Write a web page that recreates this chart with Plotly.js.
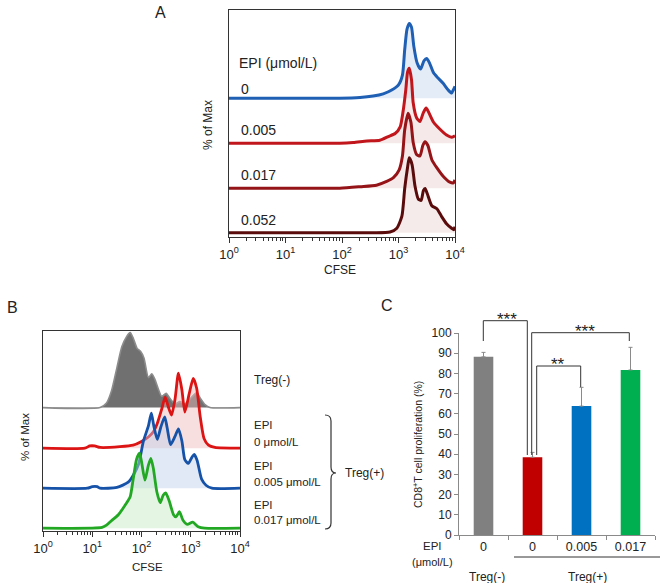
<!DOCTYPE html>
<html><head><meta charset="utf-8">
<script src="https://cdn.plot.ly/plotly-3.0.1.min.js"></script>
<style>html,body{margin:0;padding:0;background:#fff}#chart{width:666px;height:583px}</style>
</head><body><div id="chart"></div>
<script>
// ---------- DATA ----------
// Tick labels for CFSE (log10 decades)
const decadeVals = [0, 1, 2, 3, 4];
const decadeLabels = ['10<sup>0</sup>', '10<sup>1</sup>', '10<sup>2</sup>', '10<sup>3</sup>', '10<sup>4</sup>'];

// Panel A: CFSE histograms (x = log10 CFSE, y = % of max)
const aDoses = ['0', '0.005', '0.017', '0.052'];
const aX0 = [0, 1, 1.96, 2.32, 2.55, 2.73, 2.88, 3.0, 3.07, 3.11, 3.15, 3.19, 3.23, 3.27, 3.33, 3.39, 3.45, 3.50, 3.55, 3.62, 3.70, 3.79, 3.88, 3.94, 3.97, 4.0];
const aY0 = [0, 0, 0, 1, 3, 6, 11, 18, 31, 65, 92, 100, 95, 70, 47, 39, 50, 53, 47, 34, 27, 20, 11, 7, 11, 16];
const aX1 = [0, 1, 1.96, 2.2, 2.44, 2.67, 2.82, 2.94, 3.03, 3.08, 3.13, 3.16, 3.19, 3.23, 3.26, 3.32, 3.38, 3.44, 3.49, 3.53, 3.62, 3.73, 3.85, 3.94, 4.0];
const aY1 = [0, 0, 0, 1, 3, 4, 9, 13, 22, 42, 72, 95, 100, 85, 54, 34, 29, 41, 47, 42, 28, 19, 11, 8, 10];
const aX2 = [0, 1, 1.96, 2.32, 2.61, 2.79, 2.91, 3.01, 3.07, 3.11, 3.17, 3.22, 3.26, 3.32, 3.38, 3.43, 3.47, 3.52, 3.59, 3.68, 3.79, 3.91, 3.97, 4.0];
const aY2 = [0, 0, 0, 2, 4, 9, 14, 24, 43, 78, 100, 88, 61, 45, 43, 57, 62, 57, 38, 27, 16, 8, 7, 11];
const aX3 = [0, 1, 1.96, 2.55, 2.85, 2.97, 3.06, 3.11, 3.16, 3.19, 3.24, 3.29, 3.35, 3.40, 3.44, 3.47, 3.51, 3.59, 3.68, 3.76, 3.85, 3.94, 3.98, 4.0];
const aY3 = [0, 0, 0, 0, 1, 6, 22, 59, 87, 100, 91, 63, 45, 43, 56, 59, 52, 36, 32, 22, 12, 6, 4, 8];

// Panel B: CFSE histograms
const bNames = ['Treg(-)', 'EPI 0 μmol/L', 'EPI 0.005 μmol/L', 'EPI 0.017 μmol/L'];
const bXg = [0, 1.16, 1.29, 1.39, 1.50, 1.60, 1.70, 1.77, 1.83, 1.91, 1.98, 2.05, 2.14, 2.21, 2.27, 2.34, 2.41, 2.50, 2.58, 2.68, 2.78, 2.88, 3.02, 3.12, 3.19, 3.29, 3.39, 4];
const bYg = [0, 0, 6, 22, 53, 81, 95, 100, 93, 79, 75, 66, 40, 45, 38, 25, 15, 19, 12, 5, 8, 5, 14, 20, 13, 4, 0, 0];
const bXr = [0, 0.85, 0.95, 1.05, 1.16, 1.56, 1.83, 2.0, 2.14, 2.24, 2.32, 2.41, 2.48, 2.54, 2.61, 2.68, 2.75, 2.82, 2.88, 2.97, 3.05, 3.12, 3.19, 3.27, 3.36, 3.49, 4];
const bYr = [0, 0, 3, 3, 1, 2, 4, 9, 15, 22, 33, 52, 68, 56, 44, 65, 100, 78, 48, 73, 93, 80, 43, 13, 4, 1, 0];
const bXb = [0, 0.9, 1.0, 1.1, 1.16, 1.50, 1.73, 1.83, 1.94, 2.04, 2.14, 2.20, 2.25, 2.32, 2.39, 2.47, 2.52, 2.59, 2.68, 2.75, 2.82, 2.88, 2.95, 3.03, 3.07, 3.13, 3.22, 3.31, 3.43, 4];
const bYb = [0, 0, 2, 2, 0, 1, 8, 17, 32, 63, 83, 100, 83, 65, 81, 95, 81, 58, 69, 79, 63, 38, 33, 42, 45, 37, 12, 4, 0, 0];
const bXgr = [0, 1.2, 1.29, 1.39, 1.53, 1.66, 1.77, 1.83, 1.90, 1.96, 2.0, 2.07, 2.14, 2.19, 2.24, 2.31, 2.38, 2.44, 2.49, 2.56, 2.65, 2.70, 2.77, 2.84, 2.93, 3.04, 3.15, 3.28, 4];
const bYgr = [0, 1, 4, 10, 18, 30, 42, 65, 92, 100, 89, 64, 84, 93, 80, 49, 34, 44, 47, 37, 18, 15, 22, 11, 5, 8, 2, 0, 0];

// Panel C: CD8+ T cell proliferation (%)
const cDose = ['0', '0', '0.005', '0.017'];
const cGroup = ['Treg(-)', 'Treg(+)', 'Treg(+)', 'Treg(+)'];
const cValues = [88.2, 38.5, 63.8, 81.7];
const cErr = [2.2, 2.4, 9.3, 11.2];

// ---------- LAYOUT HELPERS ----------
const W = 666, H = 583;
const fx = p => p / W, fy = p => 1 - p / H;
const FONT = 'Liberation Sans, Arial, Helvetica, sans-serif';
const TXT = '#222';

const traces = [];
function addCurves(curves, xa, ya, scale, width) {
  curves.forEach(c => {
    traces.push({x: [0, 4], y: [c.off, c.off], mode: 'lines', line: {width: 0, color: 'rgba(0,0,0,0)'},
      xaxis: xa, yaxis: ya, hoverinfo: 'skip'});
    traces.push({x: c.x, y: c.y.map(v => c.off + v * scale), mode: 'lines',
      line: {color: c.color, width: c.w || width, shape: 'spline', smoothing: 0.6},
      fill: 'tonexty', fillcolor: c.fill, xaxis: xa, yaxis: ya, hoverinfo: 'skip'});
  });
}

addCurves([
  {x: aX0, y: aY0, off: 61.1, color: '#1f5fb4', fill: 'rgba(196,212,240,0.45)'},
  {x: aX1, y: aY1, off: 41.3, color: '#c0161c', fill: 'rgba(232,200,200,0.4)'},
  {x: aX2, y: aY2, off: 21.5, color: '#951418', fill: 'rgba(232,200,200,0.4)'},
  {x: aX3, y: aY3, off: 1.9, color: '#5a0c0c', fill: 'rgba(232,205,205,0.4)'}
], 'x', 'y', 0.33, 3);

addCurves([
  {x: bXg, y: bYg, off: 61.7, color: '#8c8c8c', fill: 'rgb(112,112,112)', w: 1.6},
  {x: bXr, y: bYr, off: 41.4, color: '#dc1414', fill: 'rgba(240,185,185,0.45)'},
  {x: bXb, y: bYb, off: 21.4, color: '#1552a8', fill: 'rgba(190,206,236,0.45)'},
  {x: bXgr, y: bYgr, off: 1.4, color: '#22a822', fill: 'rgba(195,232,195,0.45)'}
], 'x2', 'y2', 0.375, 2.8);

traces.push({type: 'bar', x: cDose.map((_, i) => i), y: cValues, width: 0.4,
  marker: {color: ['#808080', '#c00000', '#0070c0', '#00b050']},
  error_y: {type: 'data', array: cErr, arrayminus: cErr.map(() => 0), symmetric: false,
    color: '#8a8a8a', thickness: 1, width: 2},
  xaxis: 'x3', yaxis: 'y3', hoverinfo: 'skip'});

const minorVals = [];
for (let n = 0; n < 4; n++) for (let k = 2; k <= 9; k++) minorVals.push(n + Math.log10(k));

function histX(dom) {
  return {domain: dom, range: [0, 4], tickmode: 'array', tickvals: decadeVals, ticktext: decadeLabels,
    ticks: 'outside', ticklen: 5, tickwidth: 1, tickcolor: '#333', showline: true, linecolor: '#333',
    linewidth: 1, mirror: true, showgrid: false, zeroline: false,
    tickfont: {size: 13, color: TXT, family: FONT},
    minor: {tickmode: 'array', tickvals: minorVals, ticks: 'outside', ticklen: 3, tickcolor: '#333', showgrid: false}};
}
function histY(dom) {
  return {domain: dom, range: [0, 100], showticklabels: false, ticks: '', showline: true, mirror: true,
    linecolor: '#333', linewidth: 1, showgrid: false, zeroline: false};
}

const annotations = [];
function ann(text, x, y, o = {}) {
  annotations.push(Object.assign({text, x: fx(x), y: fy(y), xref: 'paper', yref: 'paper', showarrow: false,
    xanchor: 'center', yanchor: 'middle', font: {family: FONT, size: o.size || 12, color: TXT}}, o.extra || {}));
}
// Panel A text
ann('A', 160, 12, {size: 16});
ann('% of Max', 208, 125, {extra: {textangle: -90}});
ann('EPI (μmol/L)', 237, 63, {size: 14, extra: {xanchor: 'left'}});
[89, 130, 175, 220].forEach((y, i) => ann(aDoses[i], 239, y, {size: 14, extra: {xanchor: 'left'}}));
ann('CFSE', 340, 270);
// Panel B text
ann('B', 12, 307, {size: 16});
ann('% of Max', 25, 437, {size: 11.5, extra: {textangle: -90}});
ann('CFSE', 147, 567, {size: 11.5});
ann(bNames[0], 252, 380, {extra: {xanchor: 'left'}});
[[425, 'EPI'], [442, '0 μmol/L'], [466, 'EPI'], [482, '0.005 μmol/L'], [505, 'EPI'], [520, '0.017 μmol/L']]
  .forEach(([y, t]) => ann(t, 252, y, {size: 11.5, extra: {xanchor: 'left'}}));
ann('Treg(+)', 343, 473, {extra: {xanchor: 'left'}});
// Panel C text
ann('C', 387, 305, {size: 16});
ann('CD8<sup>+</sup>T cell proliferation (%)', 417, 445, {size: 10.5, extra: {textangle: -90}});
ann('EPI', 432, 546, {size: 11.5});
ann('(μmol/L)', 432, 562, {size: 11});
ann(cGroup[0], 487, 577);
ann(cGroup[1], 587, 577);
ann('***', 506.7, 319, {size: 17});
ann('**', 558.3, 364, {size: 17});
ann('***', 585, 331, {size: 17});

function path(segs) {
  return segs.map(s => s[0] + ' ' + s.slice(1).map(p => fx(p[0]) + ',' + fy(p[1])).join(' ')).join(' ');
}
const ln = {color: '#333', width: 1};
const shapes = [
  {type: 'path', xref: 'paper', yref: 'paper', line: ln,
    path: path([['M', [483.3, 341]], ['L', [483.3, 320.7]], ['L', [527.3, 320.7]], ['L', [527.3, 455]]])},
  {type: 'path', xref: 'paper', yref: 'paper', line: ln,
    path: path([['M', [531.7, 455]], ['L', [531.7, 332.7]], ['L', [629.3, 332.7]], ['L', [629.3, 341]]])},
  {type: 'path', xref: 'paper', yref: 'paper', line: ln,
    path: path([['M', [536.7, 455]], ['L', [536.7, 366]], ['L', [580.7, 366]], ['L', [580.7, 387]]])},
  {type: 'path', xref: 'paper', yref: 'paper', line: {color: '#333', width: 1.2},
    path: path([['M', [325, 415]], ['Q', [331, 415], [331, 421]], ['L', [331, 467]], ['Q', [331, 473], [336, 473]],
      ['Q', [331, 473], [331, 479]], ['L', [331, 523]], ['Q', [331, 529], [325, 529]]])},
  {type: 'line', xref: 'paper', yref: 'paper', x0: fx(514), x1: fx(660), y0: fy(557), y1: fy(557), line: ln}
];

const layout = {
  width: W, height: H, margin: {l: 0, r: 0, t: 0, b: 0}, showlegend: false,
  paper_bgcolor: '#fff', plot_bgcolor: 'rgba(0,0,0,0)', font: {family: FONT, color: TXT},
  xaxis: Object.assign(histX([fx(229), fx(455)]), {anchor: 'y'}),
  yaxis: Object.assign(histY([fy(237), fy(10)]), {anchor: 'x'}),
  xaxis2: Object.assign(histX([fx(43), fx(240)]), {anchor: 'y2'}),
  yaxis2: Object.assign(histY([fy(531), fy(331)]), {anchor: 'x2'}),
  xaxis3: {domain: [fx(459), fx(655)], anchor: 'y3', range: [-0.5, 3.5], tickmode: 'array',
    tickvals: cDose.map((_, i) => i), ticktext: cDose, ticks: '', showline: true, linecolor: '#8a8a8a',
    showgrid: false, zeroline: false, tickfont: {size: 12.5, color: TXT, family: FONT},
    minor: {tickmode: 'array', tickvals: [-0.5, 0.5, 1.5, 2.5, 3.5], ticks: 'outside', ticklen: 4, tickcolor: '#8a8a8a', showgrid: false}},
  yaxis3: {domain: [fy(535), fy(333)], anchor: 'x3', range: [0, 100], tick0: 0, dtick: 10, ticks: 'outside',
    ticklen: 4, tickcolor: '#8a8a8a', showline: true, linecolor: '#8a8a8a', showgrid: false, zeroline: false,
    tickfont: {size: 12, color: TXT, family: FONT}},
  annotations, shapes
};

Plotly.newPlot('chart', traces, layout, {staticPlot: true, displayModeBar: false});
</script></body></html>
